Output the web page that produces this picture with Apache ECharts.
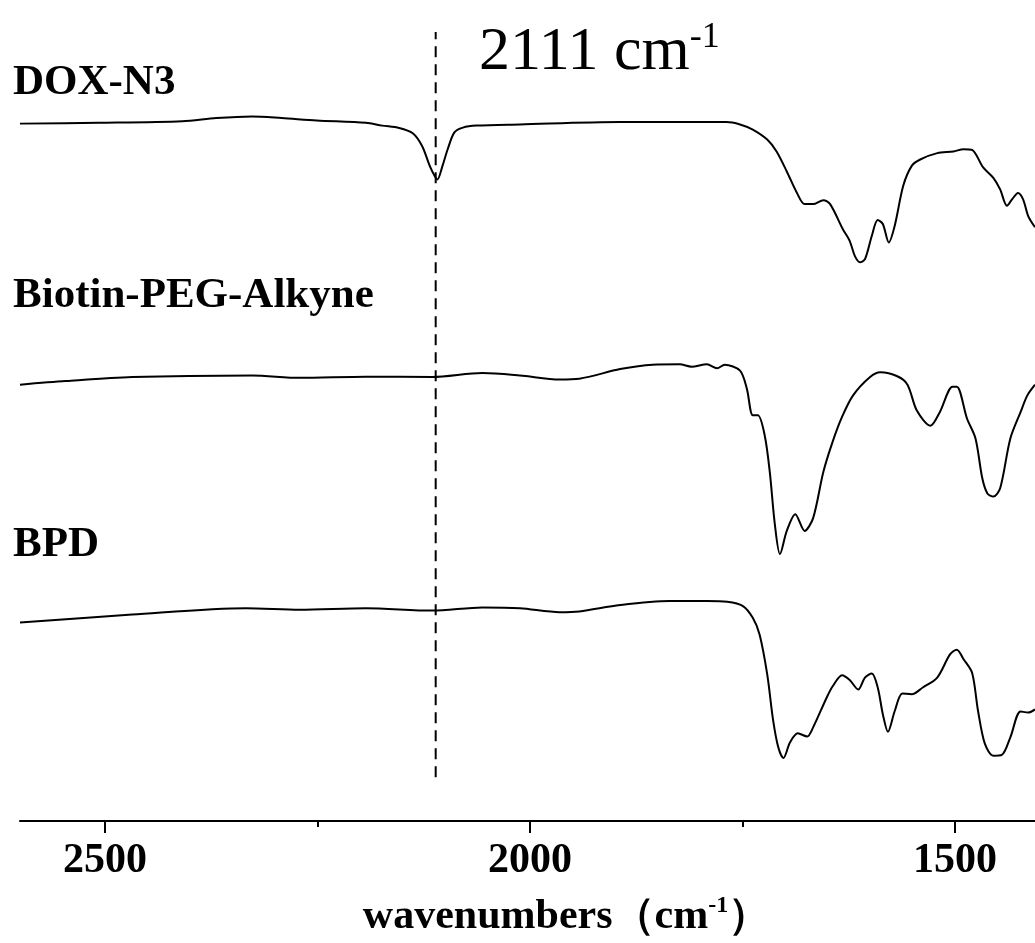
<!DOCTYPE html>
<html>
<head>
<meta charset="utf-8">
<script src="https://cdn.jsdelivr.net/npm/echarts@6/dist/echarts.min.js"></script>
<style>html,body{margin:0;padding:0;background:#fff;}#c{width:1035px;height:943px;}</style>
</head>
<body>
<div id="c"></div>
<script>
// Wavenumbers (cm-1) and offset transmittance (a.u.)
const doxWn = [2600,2507,2409,2369,2327,2292,2251,2193,2174,2154,2138,2127,2118,2112,2109,2103,2097,2089,2079,2063,2012,1894,1769,1753,1738,1721,1710,1698,1686,1677,1667,1655,1647,1632,1624,1618,1612,1606,1598,1591,1585,1578,1571,1561,1551,1541,1521,1502,1490,1480,1467,1455,1447,1439,1433,1426,1420,1414,1406];
const doxT  = [87.5,87.6,87.8,88.2,88.4,88.2,87.9,87.6,87.25,86.96,86.3,84.7,82.2,80.9,80.5,82.2,84.25,86.4,87.0,87.25,87.4,87.7,87.7,87.4,86.75,85.5,84.0,81.5,78.8,77.4,77.4,77.9,77.4,74.25,72.8,70.9,70.1,70.5,73.4,75.4,74.9,72.6,74.7,79.7,82.2,83.0,83.8,84.0,84.3,84.2,82.0,80.7,79.25,77.2,78.0,78.8,78.0,75.9,74.5];

const biotinWn = [2600,2546,2468,2327,2271,2193,2115,2056,2012,1965,1942,1894,1856,1824,1810,1792,1780,1771,1753,1745,1738,1732,1724,1718,1712,1706,1698,1688,1677,1667,1655,1644,1633,1620,1600,1588,1568,1556,1545,1529,1518,1503,1498,1486,1476,1468,1462,1455,1447,1435,1423,1415,1406];
const biotinT  = [54.75,55.2,55.7,55.9,55.6,55.75,55.7,56.2,55.9,55.4,55.5,56.7,57.25,57.3,57.0,57.3,56.8,57.25,56.5,54.25,50.9,50.9,48.4,43.8,37.2,33.5,36.4,38.5,36.4,38.0,43.8,47.6,50.7,53.4,55.7,56.3,55.8,54.75,51.5,49.6,51.3,54.5,54.5,50.5,48.0,43.0,41.1,40.7,41.75,48.0,51.3,53.4,54.75];

const bpdWn = [2600,2468,2334,2271,2193,2115,2056,2012,1965,1942,1894,1836,1792,1768,1750,1738,1730,1721,1714,1708,1702,1694,1685,1674,1667,1651,1644,1633,1624,1614,1606,1598,1591,1585,1579,1571,1562,1551,1538,1521,1506,1498,1490,1480,1473,1465,1455,1445,1435,1423,1414,1406];
const bpdT  = [24.9,25.9,26.7,26.5,26.7,26.4,26.8,26.7,26.2,26.3,27.1,27.6,27.6,27.5,27.0,25.5,23.4,18.4,12.6,9.25,7.9,9.9,11.0,10.6,11.75,15.5,16.9,18.3,17.7,16.5,18.0,18.5,16.75,13.4,11.2,13.8,16.0,15.9,16.75,18.0,20.9,21.5,20.3,18.6,13.8,9.7,8.2,8.3,10.5,13.75,13.6,14.0];

const seriesNames = ['DOX-N3','Biotin-PEG-Alkyne','BPD'];
const markerWn = 2111;
const markerRange = [5.5, 99];
const majorTicks = [1500, 2000, 2500];
const minorTicks = [1750, 2250];
const xRange = [1406, 2600];

const pairs = (xs, ys) => xs.map((x, i) => [x, ys[i]]);
const serif = '"Liberation Serif","Times New Roman",serif';

const chart = echarts.init(document.getElementById('c'), null, {renderer: 'canvas'});
const lineStyle = {color: '#000', width: 2};

chart.setOption({
  animation: false,
  backgroundColor: '#fff',
  grid: {left: 20, right: 0, top: 24, bottom: 119, containLabel: false},
  xAxis: [{
    type: 'value', inverse: true, min: xRange[0], max: xRange[1],
    position: 'bottom',
    axisLine: {show: true, lineStyle: {color: '#000', width: 2}},
    axisTick: {show: true, customValues: majorTicks, length: 12, lineStyle: {color: '#000', width: 2}},
    axisLabel: {show: true, customValues: majorTicks, margin: 19, color: '#000', fontFamily: serif, fontWeight: 'bold', fontSize: 42,
      formatter: v => String(v)},
    splitLine: {show: false},
    name: 'wavenumbers（cm{sup|-1}）',
    nameLocation: 'middle', nameGap: 73,
    nameTextStyle: {color: '#000', fontFamily: serif, fontWeight: 'bold', fontSize: 42, padding: [0, 0, 0, 78],
      rich: {sup: {fontFamily: serif, fontWeight: 'bold', fontSize: 24, verticalAlign: 'top', padding: [0,0,22,0], color: '#000'}}}
  }, {
    type: 'value', inverse: true, min: xRange[0], max: xRange[1],
    position: 'bottom', gridIndex: 0,
    axisLine: {show: false},
    axisTick: {show: true, customValues: minorTicks, length: 6, lineStyle: {color: '#000', width: 2}},
    axisLabel: {show: false},
    splitLine: {show: false}
  }],
  yAxis: {type: 'value', min: 0, max: 100, show: false},
  series: [
    {name: seriesNames[0], type: 'line', data: pairs(doxWn, doxT), showSymbol: false, smooth: 0.3, lineStyle: lineStyle},
    {name: seriesNames[1], type: 'line', data: pairs(biotinWn, biotinT), showSymbol: false, smooth: 0.3, lineStyle: lineStyle},
    {name: seriesNames[2], type: 'line', data: pairs(bpdWn, bpdT), showSymbol: false, smooth: 0.3, lineStyle: lineStyle},
    {name: 'marker', type: 'line', data: [[markerWn, markerRange[0]], [markerWn, markerRange[1]]], showSymbol: false,
      lineStyle: {color: '#000', width: 2, type: [11, 7]}}
  ],
  graphic: [
    {type: 'text', left: 13, top: 61, style: {text: seriesNames[0], font: 'bold 43px ' + serif, fill: '#000'}},
    {type: 'text', left: 13, top: 274, style: {text: seriesNames[1], font: 'bold 43px ' + serif, fill: '#000'}},
    {type: 'text', left: 13, top: 523, style: {text: seriesNames[2], font: 'bold 43px ' + serif, fill: '#000'}},
    {type: 'text', left: 479, top: 20, style: {
      text: '{m|' + markerWn + ' cm}{s|-1}',
      rich: {
        m: {fontFamily: serif, fontSize: 62, fill: '#000'},
        s: {fontFamily: serif, fontSize: 36, fill: '#000', verticalAlign: 'top', padding: [0,0,30,0]}
      }}}
  ]
});
</script>
</body>
</html>
